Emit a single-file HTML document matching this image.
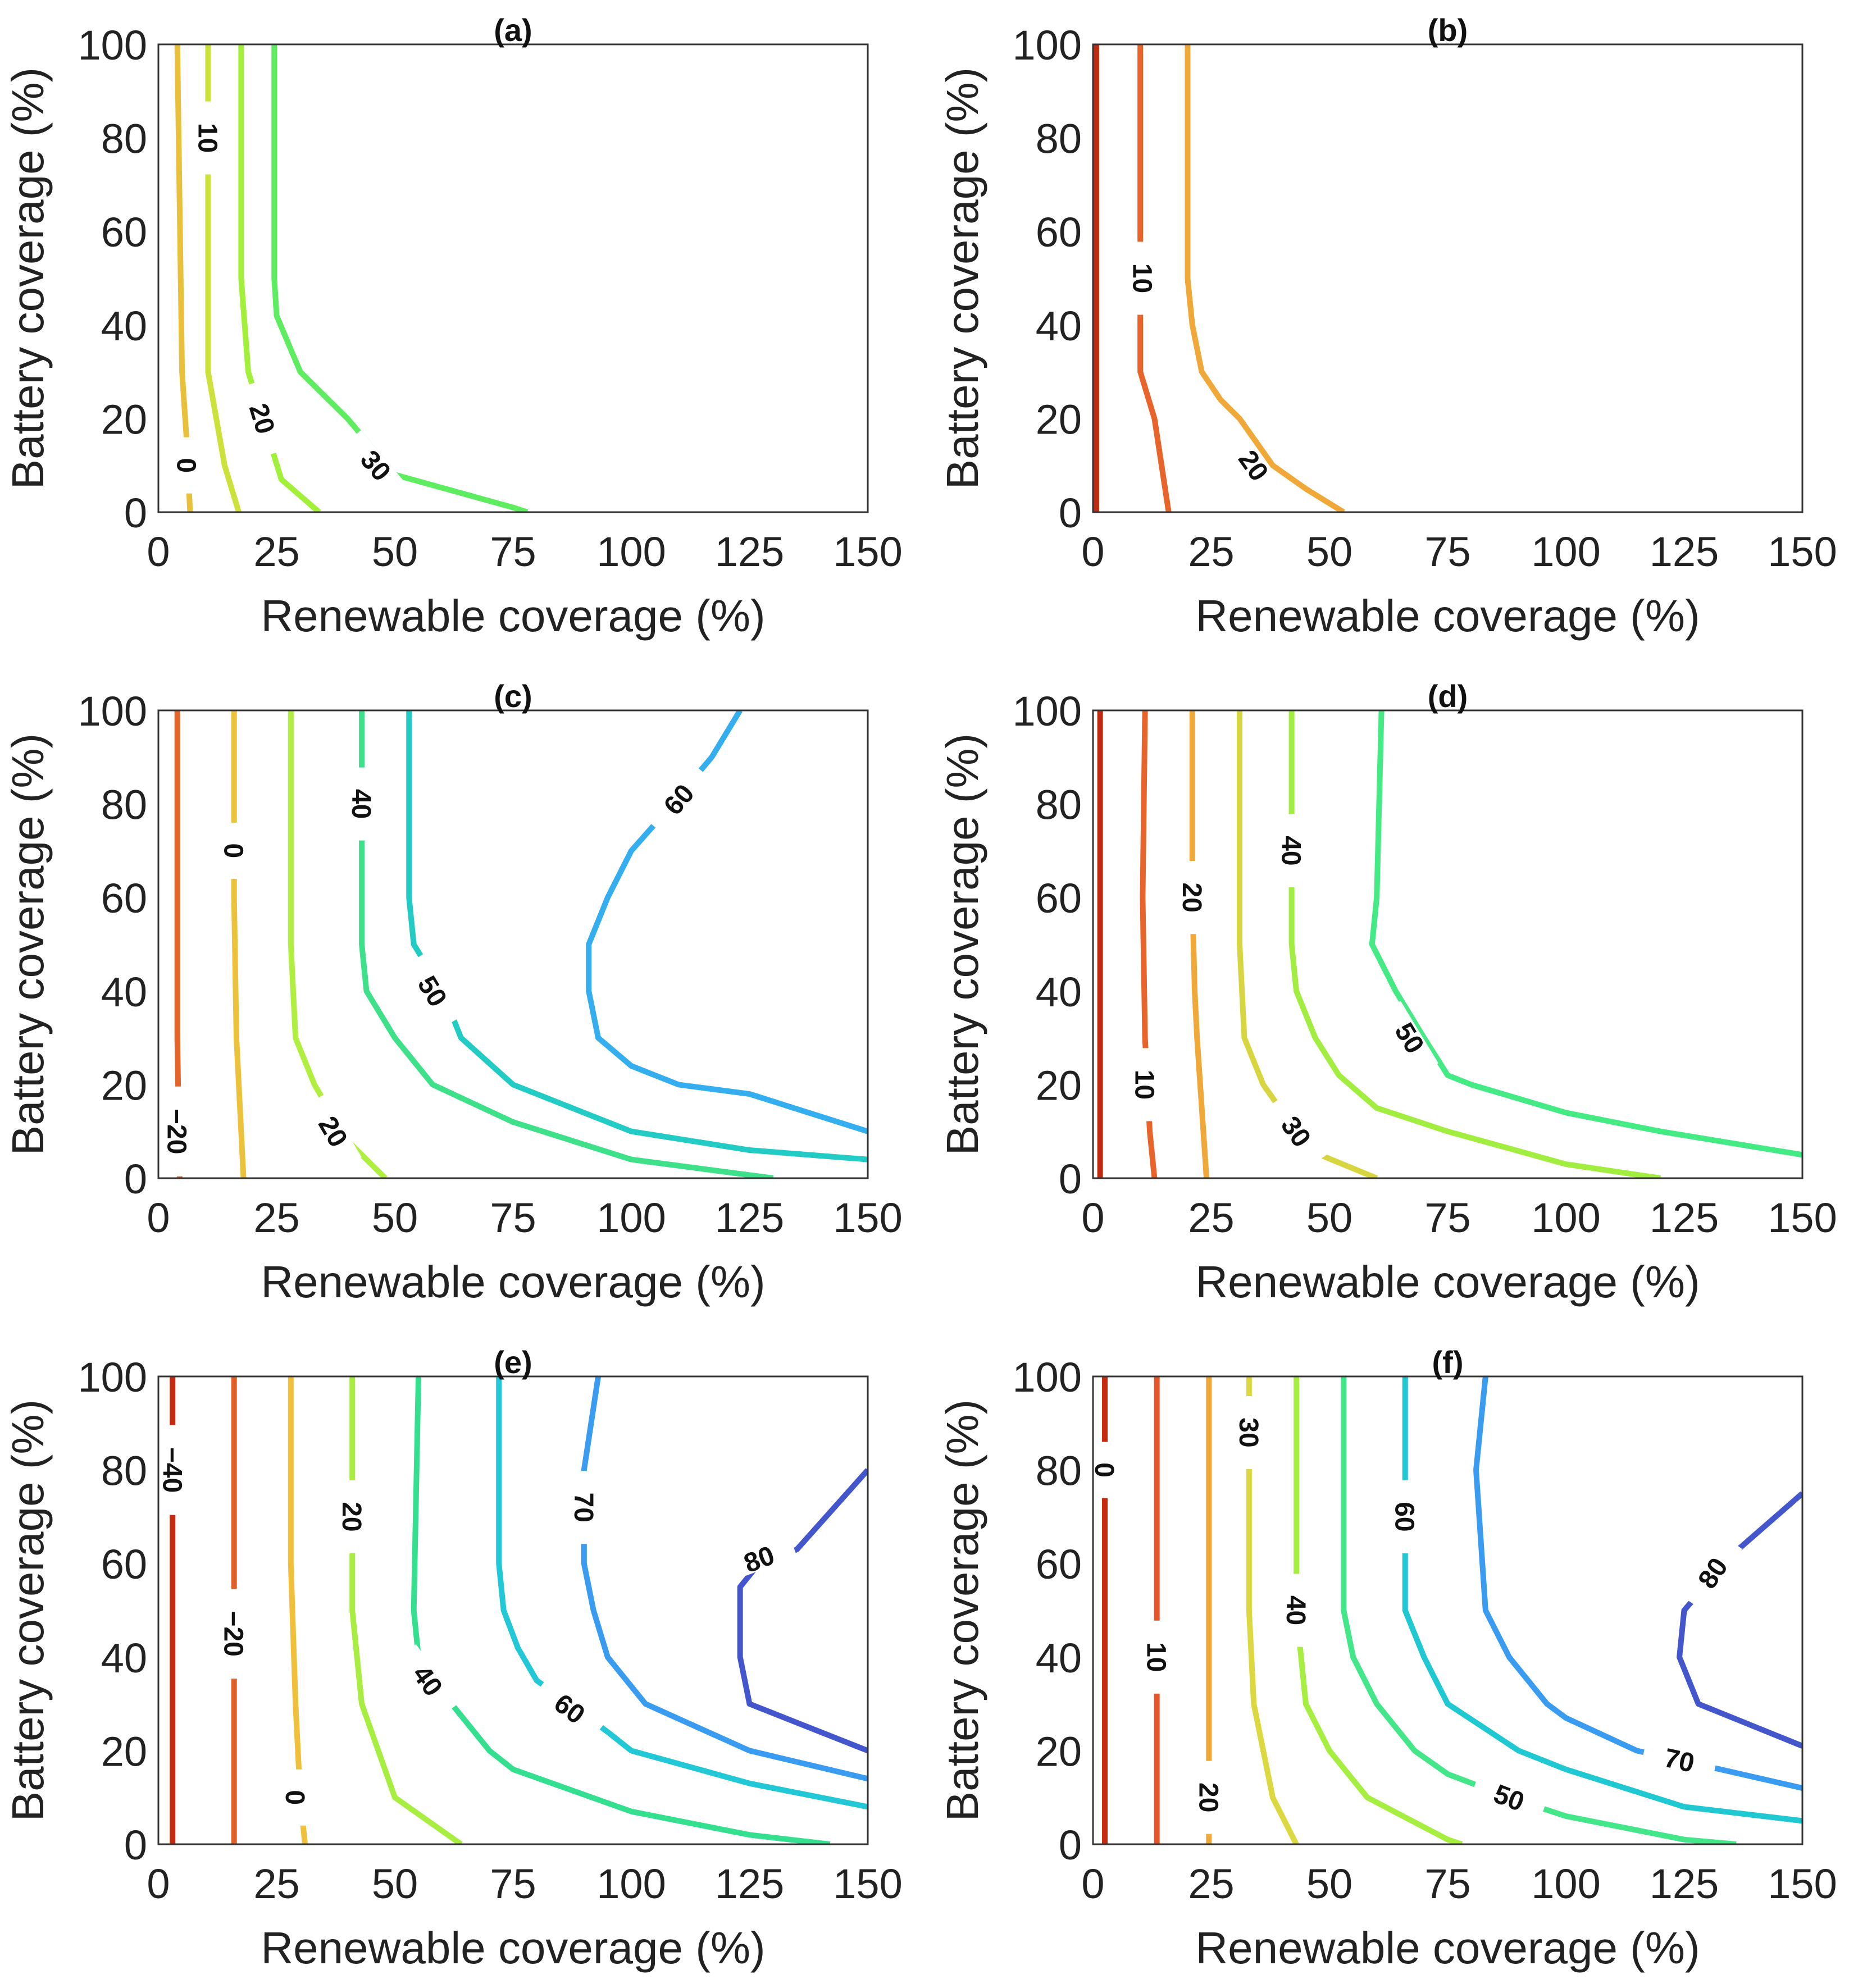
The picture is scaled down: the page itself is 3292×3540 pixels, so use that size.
<!DOCTYPE html>
<html><head><meta charset="utf-8">
<style>
html,body{margin:0;padding:0;background:#fff;}
svg{display:block;font-family:"Liberation Sans",Arial,sans-serif;}
</style></head>
<body>
<svg id="fig" width="3292" height="3540" viewBox="0 0 3292 3540" xmlns="http://www.w3.org/2000/svg"></svg>
<script>
// ---- data (x = renewable %, y = battery %) ----
const xTicks = [0,25,50,75,100,125,150];
const yTicks = [0,20,40,60,80,100];
const panelTitles = ["(a)","(b)","(c)","(d)","(e)","(f)"];

const aLevels = [0,10,20,30];
const aLines = [
 [[4,100],[5,30],[6,15],[6.7,0]],
 [[10.5,100],[10.5,30],[14,10],[17,0]],
 [[17.5,100],[17.5,50],[19,30],[26,7],[34,0]],
 [[24.5,100],[24.5,50],[25,42],[30,30],[40,20],[50,8],[75,1],[78,0]]
];
const aLabels = [[0,6,10],[10,10.5,80],[20,22,20],[30,46,10]];

const bLevels = [0,10,20];
const bLines = [
 [[0.7,100],[0.7,0]],
 [[10,100],[10,30],[13,20],[16,0]],
 [[20,100],[20,50],[21,40],[23,30],[27,24],[31,20],[38,10],[45,5],[53,0]]
];
const bLabels = [[10,10.5,50],[20,34,10]];

const cLevels = [-20,0,20,40,50,60];
const cLines = [
 [[4,100],[4,30],[4.5,0]],
 [[16,100],[16,60],[16.5,30],[18,0]],
 [[28,100],[28,50],[29,30],[33,20],[40,8],[48,0]],
 [[43,100],[43,50],[44,40],[50,30],[58,20],[75,12],[100,4],[130,0]],
 [[53,100],[53,60],[54,50],[60,40],[64,30],[75,20],[100,10],[125,6],[150,4]],
 [[123,100],[117,90],[107,78],[100,70],[95,60],[91,50],[91,40],[93,30],[100,24],[110,20],[125,18],[150,10]]
];
const cLabels = [[-20,4,10],[0,16,70],[20,37,10],[40,43,80],[50,58,40],[60,110,81]];

const dLevels = [0,10,20,30,40,50];
const dLines = [
 [[1.5,100],[1.5,0]],
 [[11,100],[10.5,60],[11,30],[12,10],[13,0]],
 [[21,100],[21,60],[21.5,40],[22,30],[24,0]],
 [[31,100],[31,50],[32,30],[36,20],[43,10],[48,5],[60,0]],
 [[42,100],[42,50],[43,40],[47,30],[52,22],[60,15],[75,10],[100,3],[120,0]],
 [[61,100],[60,60],[59,50],[64,40],[70,30],[75,22],[80,20],[100,14],[120,10],[150,5]]
];
const dLabels = [[10,11,20],[20,21,60],[30,43,10],[40,42,70],[50,67,30]];

const eLevels = [-40,-20,0,20,40,60,70,80];
const eLines = [
 [[3,100],[3,0]],
 [[16,100],[16,0]],
 [[28,100],[28,60],[29,30],[30,10],[31,0]],
 [[41,100],[41,50],[42,40],[43,30],[50,10],[64,0]],
 [[55,100],[54,50],[55,40],[62,30],[70,20],[75,16],[100,7],[125,2],[142,0]],
 [[72,100],[72,60],[73,50],[76,42],[80,35],[87,30],[95,24],[100,20],[125,13],[150,8]],
 [[93,100],[90,80],[90,60],[92,50],[95,40],[103,30],[125,20],[150,14]],
 [[150,80],[135,63],[127,60],[123,55],[123,40],[125,30],[150,20]]
];
const eLabels = [[-40,3,80],[-20,16,45],[0,29,10],[20,41,70],[40,57,35],[60,87,29],[70,90,72],[80,127,61]];

const fLevels = [0,10,20,30,40,50,60,70,80];
const fLines = [
 [[2.5,100],[2.5,0]],
 [[13.5,100],[13.5,0]],
 [[24.5,100],[24.5,0]],
 [[33,100],[33,50],[34,30],[38,10],[43,0]],
 [[43,100],[43,50],[45,30],[50,20],[58,10],[75,1],[78,0]],
 [[53,100],[53,50],[55,40],[60,30],[68,20],[75,15],[88,10],[100,6],[125,1],[136,0]],
 [[66,100],[66,50],[70,40],[75,30],[90,20],[100,16],[125,8],[150,5]],
 [[83,100],[81,80],[83,50],[88,40],[96,30],[100,27],[115,20],[124,18],[150,12]],
 [[150,75],[133,60],[131,57],[125,50],[124,40],[128,30],[150,21]]
];
const fLabels = [[0,2.5,80],[10,13.5,40],[20,24.5,10],[30,33,88],[40,43,50],[50,88,10],[60,66,70],[70,124,18],[80,131,58]];

// colour per contour level (jet-like)
const levelColors = {"-40":"#c42a10","-20":"#e2602a","0":"#e8b838","10":"#e86a28","20":"#f0a838","30":"#dcd840","40":"#a6ee40","50":"#44e68a","60":"#20c8d2","70":"#3a9cf0","80":"#4456cc"};
const panelColorOverride = {
 a:{"0":"#e8c03a","10":"#cce23a","20":"#a2f03a","30":"#5eec60"},
 b:{"0":"#c02a10","10":"#e8642a","20":"#f0a838"},
 c:{"-20":"#e4642a","0":"#ecc23a","20":"#b0ee40","40":"#3ee08a","50":"#22ccc4","60":"#34aeee"},
 d:{"0":"#c02a10","10":"#e8642a","20":"#f0a838","30":"#d8d640","40":"#a2ee40","50":"#44ea84"},
 e:{"0":"#f0c03a","20":"#a8ee40","40":"#34e090","60":"#22c8d6"},
 f:{"0":"#c82a10","10":"#e8542a"}
};

const panels = [
 {id:"a",levels:aLevels,lines:aLines,labels:aLabels},
 {id:"b",levels:bLevels,lines:bLines,labels:bLabels},
 {id:"c",levels:cLevels,lines:cLines,labels:cLabels},
 {id:"d",levels:dLevels,lines:dLines,labels:dLabels},
 {id:"e",levels:eLevels,lines:eLines,labels:eLabels},
 {id:"f",levels:fLevels,lines:fLines,labels:fLabels}
];

// ---- layout ----
const NS="http://www.w3.org/2000/svg";
const svg=document.getElementById('fig');
const colX=[282,1946], rowY=[79,1265,2451], PW=1263, PH=833;

function mk(tag,attrs,parent){const e=document.createElementNS(NS,tag);for(const k in attrs)e.setAttribute(k,attrs[k]);(parent||svg).appendChild(e);return e;}

panels.forEach((p,i)=>{
 const L=colX[i%2], T=rowY[Math.floor(i/2)];
 const sx=v=>L+v/150*PW, sy=v=>T+PH-v/100*PH;
 const g=mk('g',{});
 
 
 const clipId='clip'+p.id;
 const cp=mk('clipPath',{id:clipId},g); mk('rect',{x:L,y:T,width:PW,height:PH},cp);
 const lg=mk('g',{'clip-path':'url(#'+clipId+')'},g);
 
 
 p.lines.forEach((ln,j)=>{
  const lv=String(p.levels[j]);
  const col=(panelColorOverride[p.id]&&panelColorOverride[p.id][lv])||levelColors[lv];
  const pl=mk('polyline',{points:ln.map(q=>sx(q[0])+','+sy(q[1])).join(' '),fill:'none',stroke:col,'stroke-width':10,'stroke-linejoin':'round'},lg);
  
  
 });
 // labels
 p.labels.forEach(lb=>{
  const j=p.levels.indexOf(lb[0]); const ln=p.lines[j];
  const px=sx(lb[1]), py=sy(lb[2]);
  let best=1e18,ang=90;
  for(let k=0;k<ln.length-1;k++){
   const x1=sx(ln[k][0]),y1=sy(ln[k][1]),x2=sx(ln[k+1][0]),y2=sy(ln[k+1][1]);
   const dx=x2-x1,dy=y2-y1,l2=dx*dx+dy*dy||1;
   let t=((px-x1)*dx+(py-y1)*dy)/l2;t=Math.max(0,Math.min(1,t));
   const d=(x1+t*dx-px)**2+(y1+t*dy-py)**2;
   if(d<best){best=d;ang=Math.atan2(dy,dx)*180/Math.PI;}
  }
  while(ang>90)ang-=180; while(ang<=-90)ang+=180;
  if(Math.abs(Math.abs(ang)-90)<8)ang=90;
  const txt=String(lb[0]).replace('-','\u2212');
  const w=txt.length*30+70;
  const lgp=mk('g',{transform:`translate(${px},${py}) rotate(${ang})`},g);
  
  
  mk('rect',{x:-w/2,y:-20,width:w,height:40,fill:'#fff'},lgp);
  const t=mk('text',{x:0,y:17,'text-anchor':'middle','font-size':48,'font-weight':'bold',fill:'#111'},lgp);
  t.textContent=txt;
 });
 // frame
 const fr=mk('rect',{x:L,y:T,width:PW,height:PH,fill:'none',stroke:'#333','stroke-width':3},g);
 
 
 // title
 const ti=mk('text',{x:L+PW/2,y:T-6,'text-anchor':'middle','font-size':56,'font-weight':'bold',fill:'#111'},g);
 ti.textContent=panelTitles[i];
 
 
 // ticks
 xTicks.forEach(v=>{
  const t=mk('text',{x:sx(v),y:T+PH+96,'text-anchor':'middle','font-size':74,fill:'#222'},g);
  t.textContent=v;
  
  
 });
 yTicks.forEach(v=>{
  const t=mk('text',{x:L-20,y:sy(v)+27,'text-anchor':'end','font-size':74,fill:'#222'},g);
  t.textContent=v;
  
  
 });
 const xt=mk('text',{x:L+PW/2,y:T+PH+212,'text-anchor':'middle','font-size':80,fill:'#222'},g);
 xt.textContent='Renewable coverage (%)';
 
 
 const yx=L-205, yy=T+PH/2;
 const yt=mk('text',{x:yx,y:yy,'text-anchor':'middle','font-size':80,fill:'#222',transform:`rotate(-90 ${yx} ${yy})`},g);
 yt.textContent='Battery coverage (%)';
 
 
});
</script>
</body></html>
